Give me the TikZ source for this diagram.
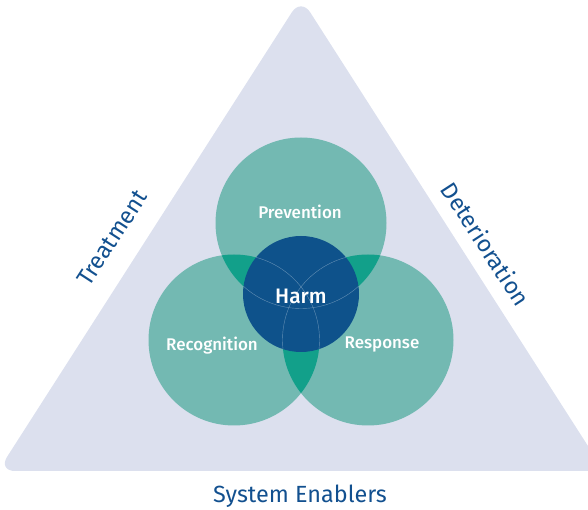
\documentclass[tikz,border=0pt]{standalone}
\usepackage{fontspec}
\setmainfont{Fira Sans}
\newfontfamily\medfont{Fira Sans}[UprightFont=* Medium]
\definecolor{trifill}{HTML}{DCE0EE}
\definecolor{circfill}{HTML}{73B9B2}
\definecolor{lensfill}{HTML}{12A08A}
\definecolor{harmfill}{HTML}{0E528B}
\definecolor{textblue}{HTML}{12508F}
\begin{document}
\begin{tikzpicture}[line join=bevel,
  area/.style={circle,inner sep=0pt,minimum size=171bp},
  inlabel/.style={text=white,font=\medfont\fontsize{17}{20}\selectfont},
  outlabel/.style={text=textblue,font=\fontsize{23.5}{28}\selectfont},
  seam/.style={white,opacity=0.35,line width=0.4bp}]
%%
\useasboundingbox (0bp,0bp) rectangle (588bp,510bp);
\clip (0bp,0bp) rectangle (588bp,510bp);
  \coordinate (top) at (301bp,512bp);
  \coordinate (left) at (-2bp,39bp);
  \coordinate (right) at (604bp,39bp);
  \fill [trifill,rounded corners=17bp] (top) -- (left) -- (right) -- cycle;
%% the three areas
  \node (prev) at (301bp,287bp) [area,fill=circfill] {};
  \node (reco) at (234bp,170bp) [area,fill=circfill] {};
  \node (resp) at (368bp,170bp) [area,fill=circfill] {};
%% overlaps
  \begin{scope}
    \clip (prev.center) circle (85.5bp);
    \fill [lensfill] (reco.center) circle (85.5bp);
    \fill [lensfill] (resp.center) circle (85.5bp);
  \end{scope}
  \begin{scope}
    \clip (reco.center) circle (85.5bp);
    \fill [lensfill] (resp.center) circle (85.5bp);
  \end{scope}
%% centre
  \node (harm) at (301bp,216bp) [circle,inner sep=0pt,minimum size=116bp,fill=harmfill] {};
  \begin{scope}
    \clip (harm.center) circle (58bp);
    \draw [seam] (prev.center) circle (85.5bp);
    \draw [seam] (reco.center) circle (85.5bp);
    \draw [seam] (resp.center) circle (85.5bp);
  \end{scope}
%% labels
  \node (harmtxt) at (301bp,214bp) [inlabel,font=\medfont\fontsize{21}{25}\selectfont] {Harm};
  \node (prevtxt) at (300bp,298bp) [inlabel] {Prevention};
  \node (recotxt) at (212bp,164bp) [inlabel] {Recognition};
  \node (resptxt) at (382bp,166bp) [inlabel] {Response};
  \node (treat) at (112bp,272bp) [outlabel,rotate=57] {Treatment};
  \node (deter) at (486bp,266bp) [outlabel,rotate=-57] {Deterioration};
  \node (enab) at (300bp,14bp) [outlabel] {System Enablers};
%
\end{tikzpicture}
\end{document}
